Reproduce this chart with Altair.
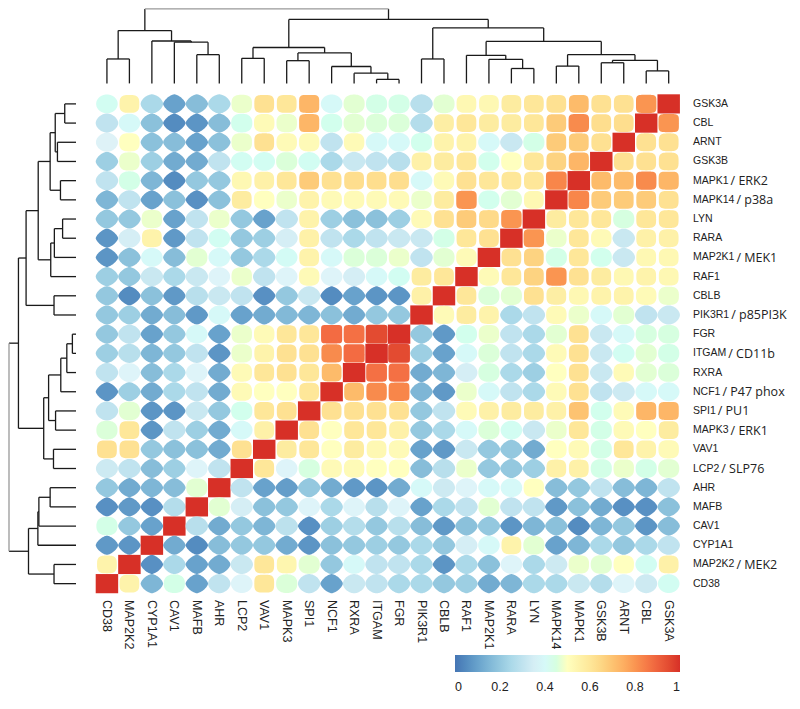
import numpy as np
import pandas as pd
import altair as alt

# ---------------- data ----------------
genes = ["CD38", "MAP2K2", "CYP1A1", "CAV1", "MAFB", "AHR", "LCP2", "VAV1", "MAPK3", "SPI1",
         "NCF1", "RXRA", "ITGAM", "FGR", "PIK3R1", "CBLB", "RAF1", "MAP2K1", "RARA", "LYN",
         "MAPK14", "MAPK1", "GSK3B", "ARNT", "CBL", "GSK3A"]

alias_gene = ["MAPK1", "MAPK14", "MAP2K1", "PIK3R1", "ITGAM", "NCF1", "SPI1", "MAPK3", "LCP2", "MAP2K2"]
alias_text = ["    / ERK2", "/ p38a", "/ MEK1", "  / p85PI3K", "/ CD11b", " / P47 phox", " / PU1",
              "      / ERK1", "/ SLP76", "/ MEK2"]

# matrix rows, top (GSK3A) to bottom (CD38); columns follow `genes` left to right
R0 = [0.42, 0.55, 0.25, 0.10, 0.17, 0.25, 0.48, 0.62, 0.60, 0.73, 0.40, 0.47, 0.44, 0.44, 0.28, 0.47, 0.53, 0.53, 0.58, 0.60, 0.62, 0.72, 0.62, 0.62, 0.80, 1.00]
R1 = [0.30, 0.40, 0.18, 0.05, 0.07, 0.17, 0.43, 0.52, 0.48, 0.73, 0.43, 0.47, 0.46, 0.46, 0.27, 0.57, 0.60, 0.58, 0.58, 0.60, 0.68, 0.82, 0.63, 0.63, 1.00, 0.80]
R2 = [0.37, 0.50, 0.18, 0.17, 0.10, 0.18, 0.48, 0.62, 0.52, 0.52, 0.30, 0.52, 0.40, 0.40, 0.43, 0.55, 0.55, 0.40, 0.32, 0.44, 0.68, 0.68, 0.62, 1.00, 0.62, 0.62]
R3 = [0.22, 0.48, 0.22, 0.12, 0.12, 0.30, 0.42, 0.42, 0.46, 0.42, 0.25, 0.32, 0.30, 0.28, 0.56, 0.58, 0.60, 0.43, 0.50, 0.60, 0.66, 0.73, 1.00, 0.62, 0.62, 0.62]
R4 = [0.30, 0.44, 0.15, 0.05, 0.20, 0.20, 0.53, 0.56, 0.60, 0.68, 0.62, 0.63, 0.63, 0.63, 0.40, 0.52, 0.62, 0.60, 0.60, 0.60, 0.83, 1.00, 0.72, 0.72, 0.82, 0.73]
R5 = [0.15, 0.30, 0.10, 0.18, 0.06, 0.18, 0.58, 0.50, 0.48, 0.55, 0.52, 0.52, 0.52, 0.52, 0.48, 0.58, 0.80, 0.43, 0.47, 0.53, 1.00, 0.83, 0.68, 0.68, 0.68, 0.62]
R6 = [0.20, 0.20, 0.48, 0.10, 0.30, 0.48, 0.20, 0.10, 0.30, 0.55, 0.22, 0.18, 0.18, 0.22, 0.52, 0.62, 0.68, 0.64, 0.80, 1.00, 0.58, 0.60, 0.60, 0.45, 0.60, 0.60]
R7 = [0.07, 0.35, 0.55, 0.08, 0.30, 0.42, 0.20, 0.22, 0.35, 0.56, 0.30, 0.25, 0.30, 0.32, 0.32, 0.44, 0.60, 0.62, 1.00, 0.80, 0.48, 0.60, 0.52, 0.32, 0.56, 0.56]
R8 = [0.07, 0.18, 0.40, 0.17, 0.47, 0.40, 0.20, 0.25, 0.41, 0.55, 0.40, 0.46, 0.46, 0.48, 0.30, 0.47, 0.52, 1.00, 0.62, 0.66, 0.44, 0.60, 0.43, 0.32, 0.53, 0.53]
R9 = [0.22, 0.20, 0.32, 0.25, 0.32, 0.38, 0.48, 0.30, 0.38, 0.52, 0.38, 0.35, 0.40, 0.42, 0.58, 0.60, 1.00, 0.52, 0.60, 0.66, 0.80, 0.62, 0.58, 0.53, 0.55, 0.53]
R10 = [0.20, 0.05, 0.18, 0.08, 0.28, 0.32, 0.30, 0.06, 0.20, 0.32, 0.05, 0.10, 0.07, 0.07, 0.56, 1.00, 0.60, 0.46, 0.47, 0.62, 0.57, 0.53, 0.55, 0.55, 0.52, 0.48]
R11 = [0.20, 0.22, 0.12, 0.17, 0.08, 0.40, 0.10, 0.12, 0.16, 0.15, 0.18, 0.12, 0.20, 0.20, 1.00, 0.52, 0.58, 0.55, 0.25, 0.30, 0.52, 0.48, 0.40, 0.47, 0.30, 0.32]
R12 = [0.20, 0.30, 0.10, 0.20, 0.40, 0.10, 0.48, 0.52, 0.60, 0.60, 0.88, 0.87, 0.95, 1.00, 0.20, 0.08, 0.43, 0.48, 0.30, 0.25, 0.47, 0.62, 0.32, 0.40, 0.45, 0.45]
R13 = [0.22, 0.28, 0.15, 0.20, 0.30, 0.07, 0.48, 0.55, 0.62, 0.62, 0.82, 0.88, 1.00, 0.95, 0.22, 0.10, 0.40, 0.46, 0.30, 0.25, 0.52, 0.62, 0.32, 0.42, 0.47, 0.44]
R14 = [0.30, 0.38, 0.17, 0.25, 0.38, 0.12, 0.52, 0.60, 0.62, 0.60, 0.72, 1.00, 0.87, 0.87, 0.12, 0.15, 0.35, 0.45, 0.25, 0.22, 0.50, 0.62, 0.32, 0.52, 0.47, 0.46]
R15 = [0.07, 0.22, 0.12, 0.25, 0.30, 0.12, 0.52, 0.50, 0.50, 0.60, 1.00, 0.72, 0.82, 0.83, 0.15, 0.08, 0.48, 0.40, 0.30, 0.25, 0.52, 0.62, 0.30, 0.33, 0.40, 0.40]
R16 = [0.30, 0.47, 0.07, 0.07, 0.32, 0.20, 0.43, 0.60, 0.62, 1.00, 0.62, 0.62, 0.62, 0.62, 0.20, 0.30, 0.52, 0.56, 0.58, 0.58, 0.56, 0.70, 0.43, 0.52, 0.73, 0.73]
R17 = [0.46, 0.60, 0.07, 0.30, 0.22, 0.12, 0.40, 0.56, 1.00, 0.62, 0.50, 0.60, 0.60, 0.56, 0.20, 0.25, 0.40, 0.46, 0.42, 0.32, 0.48, 0.60, 0.44, 0.52, 0.50, 0.58]
R18 = [0.62, 0.62, 0.20, 0.18, 0.18, 0.12, 0.62, 1.00, 0.58, 0.60, 0.50, 0.58, 0.53, 0.52, 0.10, 0.08, 0.32, 0.20, 0.20, 0.12, 0.50, 0.52, 0.44, 0.60, 0.55, 0.52]
R19 = [0.33, 0.30, 0.17, 0.22, 0.38, 0.30, 1.00, 0.60, 0.38, 0.45, 0.52, 0.52, 0.50, 0.50, 0.17, 0.28, 0.48, 0.20, 0.20, 0.22, 0.56, 0.56, 0.44, 0.48, 0.44, 0.47]
R20 = [0.20, 0.12, 0.15, 0.17, 0.47, 1.00, 0.30, 0.10, 0.09, 0.20, 0.12, 0.08, 0.07, 0.12, 0.40, 0.33, 0.38, 0.40, 0.40, 0.50, 0.17, 0.20, 0.30, 0.17, 0.15, 0.30]
R21 = [0.06, 0.08, 0.06, 0.27, 1.00, 0.47, 0.35, 0.18, 0.20, 0.38, 0.25, 0.38, 0.28, 0.38, 0.10, 0.25, 0.30, 0.47, 0.30, 0.30, 0.08, 0.18, 0.12, 0.06, 0.06, 0.18]
R22 = [0.44, 0.20, 0.10, 1.00, 0.28, 0.12, 0.20, 0.15, 0.29, 0.06, 0.22, 0.27, 0.20, 0.28, 0.17, 0.08, 0.18, 0.20, 0.07, 0.15, 0.18, 0.05, 0.15, 0.20, 0.07, 0.17]
R23 = [0.08, 0.07, 1.00, 0.12, 0.05, 0.17, 0.20, 0.20, 0.12, 0.07, 0.18, 0.20, 0.22, 0.20, 0.25, 0.20, 0.35, 0.40, 0.55, 0.47, 0.10, 0.15, 0.25, 0.20, 0.25, 0.30]
R24 = [0.55, 1.00, 0.06, 0.25, 0.10, 0.12, 0.32, 0.60, 0.54, 0.47, 0.20, 0.40, 0.30, 0.30, 0.25, 0.07, 0.25, 0.18, 0.38, 0.25, 0.33, 0.48, 0.47, 0.50, 0.42, 0.56]
R25 = [1.00, 0.55, 0.15, 0.44, 0.10, 0.30, 0.38, 0.60, 0.46, 0.30, 0.10, 0.32, 0.30, 0.25, 0.25, 0.20, 0.22, 0.12, 0.15, 0.25, 0.25, 0.32, 0.27, 0.38, 0.33, 0.42]
rows = [R0, R1, R2, R3, R4, R5, R6, R7, R8, R9, R10, R11, R12, R13, R14, R15, R16, R17, R18, R19,
        R20, R21, R22, R23, R24, R25]

# hierarchical clustering (leaf indices = column order), nodes 26.. in merge order
merge_a = [12, 11, 24, 18, 10, 20, 22, 8, 32, 17, 0, 14, 6, 16, 4, 31, 33, 38, 3, 39, 2, 36, 37, 43, 47]
merge_b = [13, 26, 25, 19, 27, 21, 23, 9, 28, 29, 1, 15, 7, 35, 5, 34, 30, 42, 40, 41, 44, 46, 45, 48, 49]
merge_h = [0.054, 0.137, 0.168, 0.200, 0.227, 0.232, 0.277, 0.305, 0.31, 0.323, 0.328, 0.328, 0.336,
           0.377, 0.386, 0.386, 0.409, 0.482, 0.554, 0.564, 0.569, 0.709, 0.745, 0.859, 1.0]

legend_ticks = [0, 0.2, 0.4, 0.6, 0.8, 1]

# ---------------- layout ----------------
W, H = 784, 693
COLW, ROWH = 22.47, 19.19
X0, Y0 = 95.7, 94.3          # heatmap top-left, page pixels
N = len(genes)


def px2x(p):
    return (p - X0) / COLW


def px2y(p):
    return (p - Y0) / ROWH


xs = alt.Scale(domain=[px2x(8), px2x(8 + W)], nice=False, zero=False)
ys = alt.Scale(domain=[px2y(8), px2y(8 + H)], nice=False, zero=False, reverse=True)

# ---------------- cell shapes (corrplot-like) ----------------
ASP = ROWH / COLW


def shape_path(v):
    if v >= 0.99:
        return f"M-1,{-ASP:.3f}L1,{-ASP:.3f}L1,{ASP:.3f}L-1,{ASP:.3f}Z"
    n = np.interp(v, [0, 0.2, 0.4, 0.5, 0.6, 0.8, 0.95], [1.4, 1.6, 2.0, 2.8, 3.5, 5.0, 9.0])
    sx = np.interp(v, [0, 0.3, 0.45, 0.55, 0.7, 0.9, 1.0], [1.0, 1.0, 0.94, 0.88, 0.88, 0.94, 1.0])
    sy = np.interp(v, [0, 0.3, 0.45, 0.55, 0.7, 0.9, 1.0], [1.0, 1.0, 0.97, 0.93, 0.93, 0.96, 1.0])
    t = np.linspace(0, 2 * np.pi, 97)[:-1]
    c, s = np.cos(t), np.sin(t)
    px = sx * np.sign(c) * np.abs(c) ** (2 / n)
    py = ASP * sy * np.sign(s) * np.abs(s) ** (2 / n)
    pts = [f"{a:.3f},{b:.3f}" for a, b in zip(px, py)]
    return "M" + "L".join(pts) + "Z"


keys = [f"{k / 20:.2f}" for k in range(21)]
paths = [shape_path(k / 20) for k in range(21)]

cell_recs = []
for r, row in enumerate(rows):
    for c, v in enumerate(row):
        cell_recs.append({"x": c + 0.5, "y": r + 0.5, "v": v,
                          "k": f"{round(v * 20) / 20:.2f}",
                          "row": genes[N - 1 - r], "col": genes[c]})
cells_df = pd.DataFrame(cell_recs)

cdom = [i / 8 for i in range(9)]
crange = ["#4575b4", "#74add1", "#abd9e9", "#e0f3f8", "#ffffbf", "#fee090", "#fdae61", "#f46d43", "#d73027"]

cells = alt.Chart(cells_df).mark_point(filled=True, opacity=1, strokeWidth=0, size=COLW ** 2).encode(
    x=alt.X("x:Q", scale=xs, axis=None),
    y=alt.Y("y:Q", scale=ys, axis=None),
    color=alt.Color("v:Q", scale=alt.Scale(domain=cdom, range=crange),
                    legend=alt.Legend(orient="none", legendX=447, legendY=647, direction="horizontal",
                                      gradientLength=225, gradientThickness=17, title=None,
                                      values=legend_ticks, format="~g", labelFontSize=12.5,
                                      labelFont="Liberation Sans", labelColor="#222",
                                      labelAlign="center", padding=0, gradientStrokeWidth=0,
                                      labelOffset=9)),
    shape=alt.Shape("k:N", scale=alt.Scale(domain=keys, range=paths), legend=None),
)

# ---------------- dendrograms ----------------
pos = {i: float(i) for i in range(N)}
hgt = {i: 0.0 for i in range(N)}
segs = []
for i, (a, b, h) in enumerate(zip(merge_a, merge_b, merge_h)):
    node = N + i
    pa, pb = pos[a], pos[b]
    pos[node] = (pa + pb) / 2
    hgt[node] = h
    root = (i == len(merge_h) - 1)
    segs.append((pa, hgt[a], pa, h, False))
    segs.append((pb, hgt[b], pb, h, False))
    segs.append((pa, h, pb, h, root))

TOP_LEAF, TOP_SPAN = 83.4, 74.5
LEFT_LEAF, LEFT_SPAN = 76.0, 67.0

top_recs, left_recs = [], []
for p1, h1, p2, h2, rt in segs:
    top_recs.append({"x": p1 + 0.5, "x2": p2 + 0.5,
                     "y": px2y(TOP_LEAF - h1 * TOP_SPAN), "y2": px2y(TOP_LEAF - h2 * TOP_SPAN), "root": rt})
    left_recs.append({"y": (N - 1 - p1) + 0.5, "y2": (N - 1 - p2) + 0.5,
                      "x": px2x(LEFT_LEAF - h1 * LEFT_SPAN), "x2": px2x(LEFT_LEAF - h2 * LEFT_SPAN), "root": rt})
dendro_df = pd.DataFrame(top_recs + left_recs)


def dendro_layer(is_root, color):
    return alt.Chart(dendro_df).transform_filter(
        alt.datum.root if is_root else ~alt.datum.root
    ).mark_rule(color=color, strokeWidth=1.3).encode(
        x=alt.X("x:Q", scale=xs, axis=None), x2="x2:Q",
        y=alt.Y("y:Q", scale=ys, axis=None), y2="y2:Q",
    )


# ---------------- labels ----------------
CW = {"M": .833, "A": .667, "P": .667, "K": .667, "S": .667, "G": .778, "N": .722, "C": .722,
      "F": .611, "L": .556, "R": .722, "I": .278, "T": .611, "B": .667, "Y": .667, "V": .667,
      "H": .722, "X": .667}
ROW_FS = 10.5
ROW_LX = 693.0


def tw(s):
    return sum(CW.get(ch, .556) for ch in s) * ROW_FS


row_df = pd.DataFrame({"label": genes[::-1], "y": [r + 0.5 for r in range(N)],
                       "x": [px2x(ROW_LX)] * N})
al_map = dict(zip(alias_gene, alias_text))
alias_df = pd.DataFrame([{"label": al_map[g].replace(" ", "\u00a0") if al_map[g].startswith(" ") else al_map[g],
                          "y": (N - 1 - genes.index(g)) + 0.5,
                          "x": px2x(ROW_LX + tw(g) + 2)} for g in alias_gene])
col_df = pd.DataFrame({"label": genes, "x": [c + 0.5 for c in range(N)], "y": [px2y(600)] * N})

row_text = alt.Chart(row_df).mark_text(align="left", baseline="middle", font="Liberation Sans",
                                       fontSize=ROW_FS, color="#222").encode(
    x=alt.X("x:Q", scale=xs, axis=None), y=alt.Y("y:Q", scale=ys, axis=None), text="label:N")
alias_txt = alt.Chart(alias_df).mark_text(align="left", baseline="middle", font="Open Sans",
                                          fontSize=12.5, color="#222", dy=0.5).encode(
    x=alt.X("x:Q", scale=xs, axis=None), y=alt.Y("y:Q", scale=ys, axis=None), text="label:N")
col_text = alt.Chart(col_df).mark_text(align="left", baseline="middle", angle=90, font="Liberation Sans",
                                       fontSize=12.5, color="#222").encode(
    x=alt.X("x:Q", scale=xs, axis=None), y=alt.Y("y:Q", scale=ys, axis=None), text="label:N")

chart = alt.layer(
    cells, dendro_layer(False, "#1a1a1a"), dendro_layer(True, "#999999"), row_text, alias_txt, col_text
).properties(
    width=W, height=H, autosize=alt.AutoSizeParams(type="none"), padding=0
).configure_view(stroke=None)

chart.save("out.html", embed_options={"renderer": "svg", "actions": False})
